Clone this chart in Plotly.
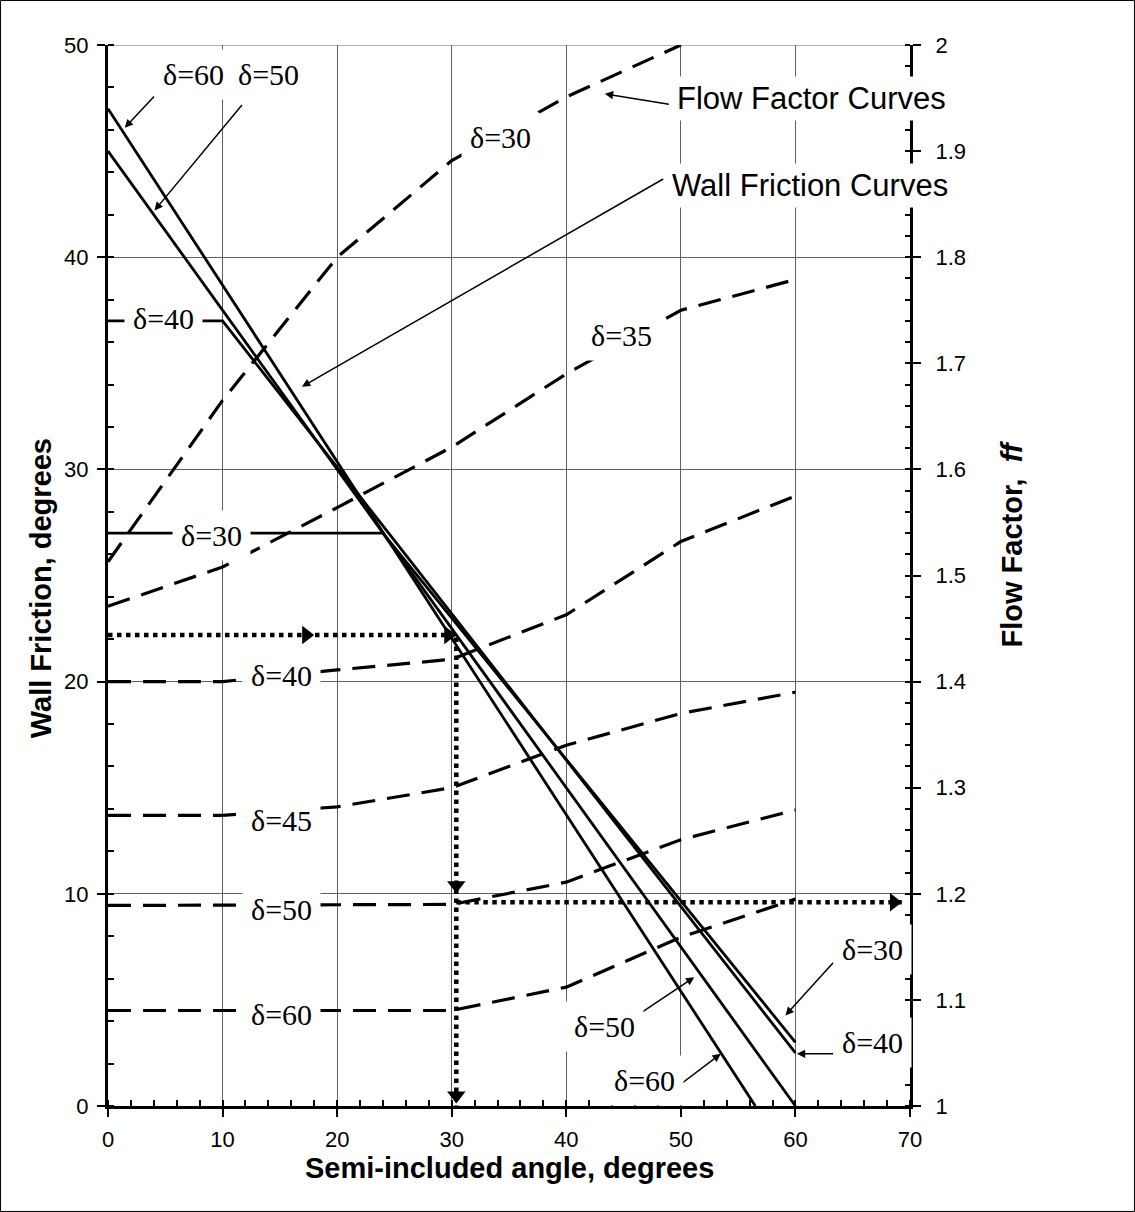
import plotly.graph_objects as go

# ---------------- data ----------------
# Wall friction curves (left axis, degrees) vs semi-included angle
wf30_x = [0, 24, 60]
wf30_y = [27, 27, 3.0]
wf40_x = [0, 10, 60]
wf40_y = [37, 37, 2.5]
wf50_x = [0, 60]
wf50_y = [45, 0]
wf60_x = [0, 56.5]
wf60_y = [47, 0]

# Flow factor curves (right axis, ff) vs semi-included angle
ff30_x = [0, 10, 20, 30, 40, 50]
ff30_y = [1.513, 1.665, 1.800, 1.891, 1.951, 2.000]
ff35_x = [0, 10, 20, 30, 40, 50, 60]
ff35_y = [1.471, 1.508, 1.564, 1.621, 1.690, 1.750, 1.779]
ff40_x = [0, 10, 20, 30, 40, 50, 60]
ff40_y = [1.400, 1.400, 1.411, 1.421, 1.463, 1.532, 1.575]
ff45_x = [0, 10, 20, 30, 40, 50, 60]
ff45_y = [1.274, 1.274, 1.282, 1.300, 1.340, 1.370, 1.390]
ff50_x = [0, 30, 40, 50, 60]
ff50_y = [1.189, 1.190, 1.211, 1.251, 1.279]
ff60_x = [0, 30, 40, 50, 60]
ff60_y = [1.090, 1.090, 1.112, 1.159, 1.195]

# Worked example guide (dotted)
guide_angle = 30.4
guide_wall = 22.2
guide_ff = 1.192
guide_end = 69.3

# Tick values / labels
x_ticks = [0, 10, 20, 30, 40, 50, 60, 70]
y_ticks = [0, 10, 20, 30, 40, 50]
ff_ticks = [1.0, 1.1, 1.2, 1.3, 1.4, 1.5, 1.6, 1.7, 1.8, 1.9, 2.0]
ff_labels = ["1", "1.1", "1.2", "1.3", "1.4", "1.5", "1.6", "1.7", "1.8", "1.9", "2"]

SANS = "Liberation Sans, Arial, sans-serif"
SERIF = "Liberation Serif, Times New Roman, serif"
DASH = "23px,12px"

fig = go.Figure()

# wall friction solid curves
for xs, ys in [(wf30_x, wf30_y), (wf40_x, wf40_y), (wf50_x, wf50_y), (wf60_x, wf60_y)]:
    fig.add_trace(go.Scatter(x=xs, y=ys, mode="lines", yaxis="y",
                             line=dict(color="black", width=2.8), hoverinfo="skip"))

# flow factor dashed curves
for xs, ys in [(ff30_x, ff30_y), (ff35_x, ff35_y), (ff40_x, ff40_y),
               (ff45_x, ff45_y), (ff50_x, ff50_y), (ff60_x, ff60_y)]:
    fig.add_trace(go.Scatter(x=xs, y=ys, mode="lines", yaxis="y2",
                             line=dict(color="black", width=3.2, dash=DASH), hoverinfo="skip"))

# dotted guide lines
fig.add_trace(go.Scatter(x=[0, guide_angle, guide_angle], y=[guide_wall, guide_wall, 0],
                         mode="lines", yaxis="y",
                         line=dict(color="black", width=4.5, dash="dot"), hoverinfo="skip"))
fig.add_trace(go.Scatter(x=[guide_angle, guide_end], y=[guide_ff, guide_ff],
                         mode="lines", yaxis="y2",
                         line=dict(color="black", width=4.5, dash="dot"), hoverinfo="skip"))

# arrow heads on dotted guides
head_x = [17.3, guide_angle - 0.7, guide_angle, guide_angle]
head_y = [guide_wall, guide_wall, 10.4, 0.5]
head_sym = ["triangle-right", "triangle-right", "triangle-down", "triangle-down"]
fig.add_trace(go.Scatter(x=head_x, y=head_y, mode="markers", yaxis="y",
                         marker=dict(symbol=head_sym, size=16, color="black"), hoverinfo="skip"))
fig.add_trace(go.Scatter(x=[guide_end - 0.7], y=[guide_ff], mode="markers", yaxis="y2",
                         marker=dict(symbol="triangle-right", size=16, color="black"), hoverinfo="skip"))

# invisible traces so overlay tick axes are drawn
fig.add_trace(go.Scatter(x=[None], y=[None], xaxis="x2", yaxis="y", showlegend=False))
fig.add_trace(go.Scatter(x=[None], y=[None], xaxis="x", yaxis="y3", showlegend=False))
fig.add_trace(go.Scatter(x=[None], y=[None], xaxis="x", yaxis="y4", showlegend=False))

annotations = []


def arrow(tip, tail, yref="y"):
    annotations.append(dict(x=tip[0], y=tip[1], ax=tail[0], ay=tail[1],
                            xref="x", yref=yref, axref="x", ayref=yref,
                            text="", showarrow=True, arrowhead=2, arrowsize=1.1,
                            arrowwidth=1.5, arrowcolor="black", standoff=0,
                            startstandoff=0, borderpad=0))


def label(text, x, y, yref="y", size=30, family=SERIF, pad=8):
    annotations.append(dict(x=x, y=y, xref="x", yref=yref, text=text, showarrow=False,
                            xanchor="center", yanchor="middle",
                            font=dict(family=family, size=size, color="black"),
                            bgcolor="white", borderpad=pad))


# arrows
arrow((1.46, 46.1), (4.06, 47.6))
arrow((4.06, 42.2), (11.73, 47.2))
arrow((43.37, 1.954), (49.0, 1.944), yref="y2")
arrow((16.93, 33.9), (48.5, 43.7))
arrow((59.13, 4.27), (63.33, 6.78))
arrow((60.13, 2.46), (63.33, 2.46))
arrow((51.17, 6.07), (45.95, 4.19))
arrow((53.48, 2.46), (48.7, 0.5))

# curve labels
label("δ=60", 7.45, 48.6)
label("δ=50", 14.05, 48.6)
label("δ=40", 4.85, 37.1)
label("δ=30", 9.02, 26.9)
label("δ=30", 34.3, 1.9125, yref="y2")
label("δ=35", 44.8, 1.726, yref="y2")
label("δ=40", 15.1, 1.4055, yref="y2")
label("δ=45", 15.1, 1.269, yref="y2")
label("δ=50", 15.1, 1.185, yref="y2")
label("δ=60", 15.1, 1.0863, yref="y2")
label("δ=30", 66.7, 7.38)
label("δ=40", 66.7, 3.0)
label("δ=50", 43.37, 3.75)
label("δ=60", 46.84, 1.2)
label("Flow Factor Curves", 61.4, 1.95, yref="y2", size=31, family=SANS, pad=4)
label("Wall Friction Curves", 61.24, 43.4, size=31, family=SANS, pad=4)

# axis titles
annotations.append(dict(x=0.5, y=-0.058, xref="paper", yref="paper", showarrow=False,
                        xanchor="center", yanchor="middle",
                        text="<b>Semi-included angle, degrees</b>",
                        font=dict(family=SANS, size=29, color="black")))
annotations.append(dict(x=-0.0835, y=0.488, xref="paper", yref="paper", showarrow=False,
                        xanchor="center", yanchor="middle",
                        textangle=-90, text="<b>Wall Friction, degrees</b>",
                        font=dict(family=SANS, size=29, color="black")))
annotations.append(dict(x=1.127, y=0.53, xref="paper", yref="paper", showarrow=False,
                        xanchor="center", yanchor="middle",
                        textangle=-90, text="<b>Flow Factor,  <i>ff</i></b>",
                        font=dict(family=SANS, size=29, color="black")))

tickfont = dict(family=SANS, size=22, color="black")
GRID = "#606060"

fig.update_layout(
    width=1135, height=1212,
    margin=dict(l=108, r=225, t=45, b=106, autoexpand=False),
    paper_bgcolor="white", plot_bgcolor="white",
    showlegend=False,
    annotations=annotations,
    xaxis=dict(range=[0, 70], tickvals=x_ticks, ticks="outside", ticklen=8, tickwidth=2,
               tickcolor="black", showline=True, linewidth=3, linecolor="black",
               showgrid=True, gridcolor=GRID, gridwidth=1, zeroline=False,
               tickfont=tickfont, ticklabelstandoff=4,
               minor=dict(ticks="inside", dtick=2, ticklen=6, tickwidth=2,
                          tickcolor="black", showgrid=False)),
    xaxis2=dict(range=[0, 70], overlaying="x", anchor="y", side="bottom",
                tickvals=x_ticks, ticks="inside", ticklen=6, tickwidth=2, tickcolor="black",
                showticklabels=False, showgrid=False, showline=False, zeroline=False),
    yaxis=dict(range=[0, 50], tickvals=y_ticks, ticks="outside", ticklen=8, tickwidth=2,
               tickcolor="black", showline=True, linewidth=3, linecolor="black",
               showgrid=True, gridcolor=GRID, gridwidth=1, zeroline=False,
               tickfont=tickfont, ticklabelstandoff=4,
               minor=dict(ticks="inside", dtick=2, ticklen=6, tickwidth=2,
                          tickcolor="black", showgrid=False)),
    yaxis2=dict(range=[1, 2], overlaying="y", side="right", anchor="x",
                tickvals=ff_ticks, ticktext=ff_labels, ticks="outside", ticklen=8,
                tickwidth=2, tickcolor="black", showline=True, linewidth=3,
                linecolor="black", showgrid=False, zeroline=False,
                tickfont=tickfont, ticklabelstandoff=10,
                minor=dict(ticks="inside", dtick=0.02, ticklen=5, tickwidth=2,
                           tickcolor="black", showgrid=False)),
    yaxis3=dict(range=[0, 50], overlaying="y", side="left", anchor="x",
                tickvals=y_ticks, ticks="inside", ticklen=6, tickwidth=2, tickcolor="black",
                showticklabels=False, showgrid=False, showline=False, zeroline=False),
    yaxis4=dict(range=[1, 2], overlaying="y", side="right", anchor="x",
                tickvals=ff_ticks, ticks="inside", ticklen=5, tickwidth=2, tickcolor="black",
                showticklabels=False, showgrid=False, showline=False, zeroline=False),
    shapes=[
        dict(type="line", xref="x", yref="y", x0=0, x1=70, y0=50, y1=50,
             line=dict(color=GRID, width=1), layer="below"),
        dict(type="rect", xref="paper", yref="paper",
             x0=-0.1340, x1=1.2799, y0=-0.0994, y1=1.0419,
             line=dict(color="black", width=1), layer="above"),
    ],
)

fig.write_html("out.html", config={"displayModeBar": False},
               post_script="document.body.style.margin='0px';")
